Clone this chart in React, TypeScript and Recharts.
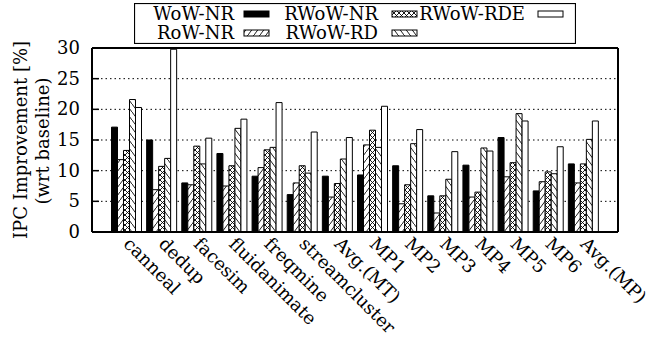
import React from 'react';
import { BarChart, Bar, XAxis, YAxis, CartesianGrid, Legend } from 'recharts';

const categories = [
  'canneal', 'dedup', 'facesim', 'fluidanimate', 'freqmine', 'streamcluster', 'Avg.(MT)',
  'MP1', 'MP2', 'MP3', 'MP4', 'MP5', 'MP6', 'Avg.(MP)',
];
const wowNR = [17.1, 15.0, 8.0, 12.8, 9.1, 6.1, 9.1, 9.3, 10.8, 5.9, 10.9, 15.4, 6.7, 11.1];
const rowNR = [11.8, 6.9, 7.7, 7.5, 10.5, 8.0, 5.7, 14.2, 4.6, 3.1, 5.7, 9.0, 8.2, 8.0];
const rwowNR = [13.3, 10.7, 14.0, 10.8, 13.4, 10.8, 7.9, 16.6, 7.7, 5.9, 6.5, 11.3, 9.8, 11.1];
const rwowRD = [21.6, 12.0, 11.1, 16.9, 13.8, 9.6, 11.9, 13.8, 14.4, 8.6, 13.7, 19.3, 9.5, 15.1];
const rwowRDE = [20.3, 29.8, 15.3, 18.4, 21.1, 16.3, 15.4, 20.5, 16.7, 13.1, 13.2, 18.1, 13.9, 18.1];
const yTicks = [0, 5, 10, 15, 20, 25, 30];

const SERIES = [
  { key: 'wowNR', name: 'WoW-NR', fill: '#000' },
  { key: 'rowNR', name: 'RoW-NR', fill: 'url(#hatchFwd)' },
  { key: 'rwowNR', name: 'RWoW-NR', fill: 'url(#hatchCross)' },
  { key: 'rwowRD', name: 'RWoW-RD', fill: 'url(#hatchBack)' },
  { key: 'rwowRDE', name: 'RWoW-RDE', fill: '#fff' },
];

const data = categories.map((name, i) => ({
  name,
  wowNR: wowNR[i],
  rowNR: rowNR[i],
  rwowNR: rwowNR[i],
  rwowRD: rwowRD[i],
  rwowRDE: rwowRDE[i],
}));

const FONT = '"DejaVu Serif", serif';

// legend slots: gnuplot fills the key column by column, 2 rows
const LEGEND_SLOTS = [
  { textEnd: 100, sx: 110, row: 0 },
  { textEnd: 100, sx: 110, row: 1 },
  { textEnd: 244, sx: 258, row: 0 },
  { textEnd: 244, sx: 258, row: 1 },
  { textEnd: 391, sx: 404, row: 0 },
];

function Patterns() {
  return (
    <defs>
      <pattern id="hatchFwd" patternUnits="userSpaceOnUse" width="6" height="8">
        <rect width="6" height="8" fill="#fff" />
        <path d="M0,8 L6,0" stroke="#000" strokeWidth="0.9" />
      </pattern>
      <pattern id="hatchBack" patternUnits="userSpaceOnUse" width="6" height="8">
        <rect width="6" height="8" fill="#fff" />
        <path d="M0,0 L6,8" stroke="#000" strokeWidth="0.9" />
      </pattern>
      <pattern id="hatchCross" patternUnits="userSpaceOnUse" width="5" height="5">
        <rect width="5" height="5" fill="#fff" />
        <path d="M0,0 L5,5 M0,5 L5,0" stroke="#000" strokeWidth="0.9" />
      </pattern>
    </defs>
  );
}

function renderLegend() {
  return (
    <svg width={442} height={41} style={{ display: 'block' }}>
      <rect x={0.5} y={0.5} width={441} height={40} fill="#fff" stroke="#000" strokeWidth={1.2} />
      {SERIES.map((s, i) => {
        const slot = LEGEND_SLOTS[i];
        const base = slot.row === 0 ? 16.5 : 36;
        const sy = slot.row === 0 ? 8 : 27;
        return (
          <g key={s.key}>
            <text x={slot.textEnd} y={base} textAnchor="end" fontFamily={FONT} fontSize={18} fill="#000">
              {s.name}
            </text>
            <rect x={slot.sx} y={sy} width={25} height={6} fill={s.fill} stroke="#000" strokeWidth={1} />
          </g>
        );
      })}
    </svg>
  );
}

function LeftTick(props: any) {
  const { x, y, payload } = props;
  return (
    <g>
      <text x={x} y={y} dy={6} textAnchor="end" fontFamily={FONT} fontSize={18} fill="#000">
        {payload.value}
      </text>
      <line x1={x + 12} x2={x + 19} y1={y} y2={y} stroke="#000" strokeWidth={1.5} />
    </g>
  );
}

function RightTick(props: any) {
  const { x, y } = props;
  return <line x1={x - 7} x2={x} y1={y} y2={y} stroke="#000" strokeWidth={1.5} />;
}

function CategoryTick(props: any) {
  const { x, y, payload } = props;
  const tx = x - 4;
  const ty = y + 13;
  return (
    <text
      x={tx}
      y={ty}
      transform={`rotate(45, ${tx}, ${ty})`}
      textAnchor="start"
      fontFamily={FONT}
      fontSize={18}
      fill="#000"
    >
      {payload.value}
    </text>
  );
}

function YTitle() {
  return (
    <g fontFamily={FONT} fontSize={18} fill="#000">
      <text x={27} y={140} transform="rotate(-90, 27, 140)" textAnchor="middle">
        IPC Improvement [%]
      </text>
      <text x={49} y={141} transform="rotate(-90, 49, 141)" textAnchor="middle">
        (wrt baseline)
      </text>
    </g>
  );
}

export default function App() {
  return (
    <div style={{ position: 'absolute', left: 0, top: 0, width: 660, height: 338, background: '#fff', fontFamily: FONT }}>
      <BarChart
        width={660}
        height={338}
        data={data}
        margin={{ top: 47, right: 41, bottom: 6, left: 0 }}
        barCategoryGap={2.5}
        barGap={0}
      >
        <Patterns />
        <CartesianGrid vertical={false} stroke="#000" strokeWidth={1} strokeDasharray="1.5 3" yAxisId="l" />
        <XAxis
          dataKey="name"
          xAxisId="b"
          height={100}
          interval={0}
          padding={{ left: 17, right: 17 }}
          tickLine={false}
          tickSize={0}
          tickMargin={0}
          axisLine={{ stroke: '#000', strokeWidth: 2 }}
          tick={<CategoryTick />}
        />
        <XAxis
          dataKey="name"
          xAxisId="t"
          orientation="top"
          height={1}
          tick={false}
          tickLine={false}
          axisLine={{ stroke: '#000', strokeWidth: 2 }}
        />
        <YAxis
          yAxisId="l"
          width={92}
          domain={[0, 30]}
          ticks={yTicks}
          interval={0}
          tickLine={false}
          tickSize={0}
          tickMargin={12}
          axisLine={{ stroke: '#000', strokeWidth: 2 }}
          tick={<LeftTick />}
          label={<YTitle />}
        />
        <YAxis
          yAxisId="r"
          orientation="right"
          width={1}
          domain={[0, 30]}
          ticks={yTicks}
          interval={0}
          tickLine={false}
          tickSize={0}
          tickMargin={0}
          axisLine={{ stroke: '#000', strokeWidth: 2 }}
          tick={<RightTick />}
        />
        <Legend
          layout="horizontal"
          verticalAlign="middle"
          align="center"
          content={renderLegend}
          wrapperStyle={{ top: 3, left: 134, width: 442, height: 41 }}
        />
        {SERIES.map((s) => (
          <Bar
            key={s.key}
            dataKey={s.key}
            name={s.name}
            xAxisId="b"
            yAxisId="l"
            fill={s.fill}
            stroke="#000"
            strokeWidth={1}
            isAnimationActive={false}
          />
        ))}
      </BarChart>
    </div>
  );
}
